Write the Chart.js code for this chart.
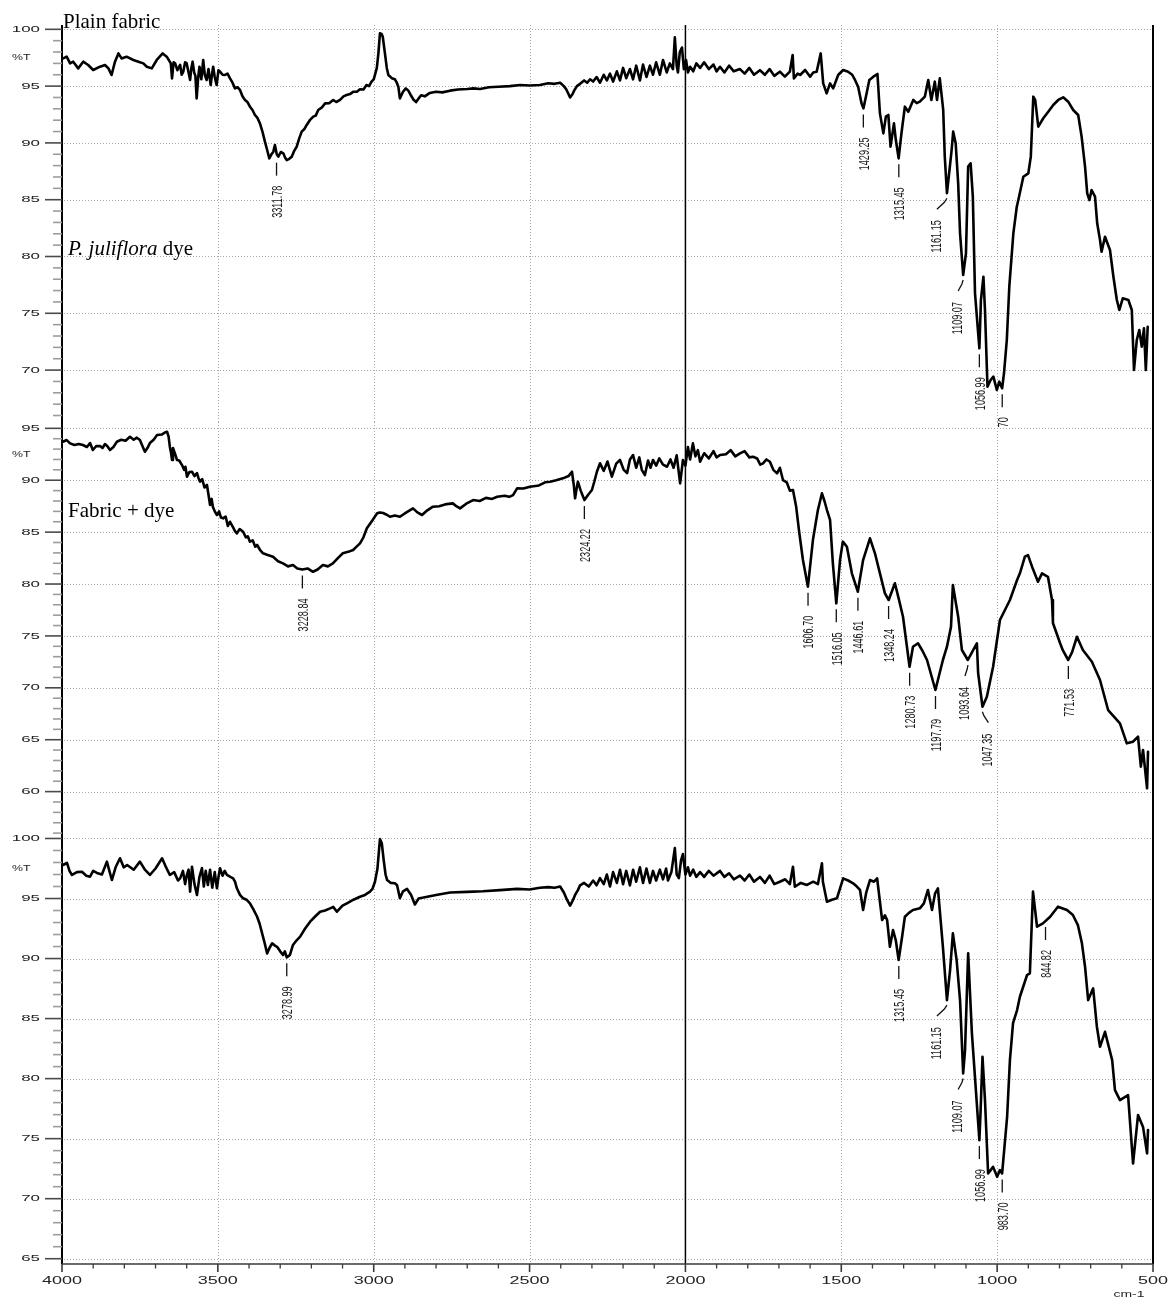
<!DOCTYPE html>
<html>
<head>
<meta charset="utf-8">
<title>FTIR spectra</title>
<script src="https://cdn.jsdelivr.net/npm/chart.js@4.4.1/dist/chart.umd.min.js"></script>
<style>
  html, body { margin: 0; padding: 0; background: #fff; }
  #wrap { position: relative; width: 1168px; height: 1299px; overflow: hidden; background: #fff; }
  #wrap canvas { position: absolute; left: 0; }
</style>
</head>
<body>
<div id="wrap">
  <canvas id="p1" width="1168" height="432" style="top:0px"></canvas>
  <canvas id="p2" width="1168" height="413" style="top:422px"></canvas>
  <canvas id="p3" width="1168" height="464" style="top:835px"></canvas>
</div>
<script>
// Each spectrum: [wavenumber (cm-1), transmittance (%T)]

// Plain fabric
const spectrum1 = [[3996,97.44],[3985,97.59],[3974,97.00],[3964,97.15],[3948,96.56],[3932,97.15],[3916,96.86],[3900,96.42],[3878,96.71],[3862,96.86],[3851,96.56],[3841,95.98],[3830,97.15],[3819,97.88],[3809,97.44],[3793,97.59],[3771,97.30],[3755,97.15],[3739,97.00],[3728,96.71],[3712,96.56],[3696,97.30],[3677,97.88],[3664,97.59],[3651,97.00],[3647,95.68],[3642,97.1],[3637,97.00],[3630,96.4],[3621,96.86],[3616,96.0],[3611,96.27],[3605,97.1],[3600,97.00],[3594,96.2],[3589,95.54],[3585,96.6],[3581,97.15],[3576,96.2],[3572,95.9],[3568,93.92],[3563,95.8],[3559,96.71],[3553,95.6],[3547,97.30],[3542,96.0],[3536,95.54],[3530,96.5],[3523,95.10],[3519,96.0],[3515,96.71],[3510,95.8],[3504,95.10],[3498,96.4],[3493,96.27],[3485,96.0],[3477,95.98],[3469,96.1],[3461,95.68],[3453,95.3],[3445,94.80],[3437,94.9],[3429,94.66],[3421,94.1],[3413,93.78],[3405,93.6],[3397,93.19],[3389,92.9],[3381,92.46],[3373,92.2],[3365,91.72],[3357,91.0],[3349,90.11],[3342,89.4],[3335,88.64],[3328,89.0],[3322,89.23],[3317,89.82],[3311,89.0],[3306,88.79],[3298,89.2],[3290,89.08],[3284,88.7],[3279,88.49],[3271,88.6],[3263,88.79],[3255,89.3],[3247,89.67],[3239,90.4],[3231,90.99],[3223,91.2],[3215,91.58],[3205,92.0],[3194,92.31],[3186,92.4],[3178,92.90],[3167,93.1],[3156,93.48],[3143,93.5],[3130,93.78],[3120,93.6],[3108,93.78],[3097,94.1],[3087,94.22],[3076,94.3],[3065,94.51],[3054,94.5],[3044,94.72],[3033,94.7],[3023,95.10],[3015,95.0],[3007,95.39],[3000,95.6],[2996,95.98],[2990,96.6],[2985,97.88],[2980,99.65],[2975,99.6],[2971,99.35],[2964,97.88],[2958,96.6],[2953,95.98],[2942,95.7],[2932,95.60],[2926,95.3],[2921,94.95],[2916,93.92],[2906,94.50],[2897,94.8],[2889,94.6],[2881,94.2],[2872,93.8],[2864,93.60],[2856,93.9],[2848,94.2],[2836,94.1],[2820,94.40],[2800,94.5],[2780,94.45],[2755,94.60],[2730,94.7],[2700,94.75],[2680,94.8],[2659,94.75],[2630,94.9],[2600,94.95],[2563,95.00],[2530,95.1],[2500,95.05],[2467,95.10],[2440,95.25],[2420,95.2],[2402,95.30],[2390,95.0],[2382,94.70],[2370,94.00],[2362,94.3],[2357,94.60],[2348,95.0],[2338,95.20],[2325,95.5],[2315,95.3],[2306,95.60],[2296,95.4],[2285,95.8],[2274,95.30],[2262,96.0],[2252,95.5],[2242,96.10],[2232,95.4],[2220,96.3],[2210,95.50],[2200,96.6],[2190,95.7],[2178,96.50],[2168,95.6],[2158,96.8],[2146,95.50],[2136,96.9],[2125,95.8],[2114,96.80],[2104,96.0],[2094,97.1],[2082,96.00],[2072,97.3],[2060,96.2],[2050,97.00],[2040,96.5],[2034,99.30],[2028,96.8],[2024,96.20],[2018,98.0],[2011,98.40],[2005,96.5],[1998,97.30],[1992,96.2],[1985,96.70],[1975,96.3],[1965,97.0],[1953,96.60],[1940,97.1],[1925,96.5],[1910,96.9],[1900,96.3],[1889,96.70],[1875,96.2],[1860,96.8],[1845,96.3],[1825,96.50],[1810,96.1],[1795,96.6],[1780,96.0],[1761,96.40],[1745,96.0],[1730,96.5],[1715,95.9],[1697,96.27],[1681,95.83],[1665,96.27],[1656,97.74],[1652,95.68],[1640,96.1],[1632,95.98],[1616,96.42],[1600,95.83],[1590,96.2],[1579,96.27],[1566,97.88],[1558,95.24],[1547,94.36],[1536,95.24],[1526,94.80],[1510,95.98],[1494,96.42],[1478,96.27],[1465,96.0],[1456,95.54],[1446,94.95],[1435,93.48],[1429,93.04],[1421,94.07],[1410,95.54],[1397,95.83],[1384,96.07],[1376,92.60],[1365,90.84],[1357,92.31],[1349,92.46],[1342,89.67],[1331,91.72],[1325,90.25],[1316,88.64],[1307,90.84],[1296,93.19],[1285,92.75],[1269,93.78],[1258,93.5],[1248,93.63],[1232,94.07],[1221,95.54],[1211,93.78],[1200,95.39],[1193,93.78],[1184,95.68],[1173,92.90],[1168,88.79],[1161,85.57],[1154,87.33],[1146,89.38],[1141,90.99],[1133,89.96],[1125,86.44],[1119,82.04],[1109,78.37],[1100,80.28],[1093,87.91],[1085,88.20],[1078,85.27],[1071,76.76],[1057,71.92],[1052,76.17],[1044,78.22],[1039,75.29],[1031,68.54],[1021,69.13],[1012,69.42],[1001,68.25],[993,68.98],[984,68.40],[978,69.72],[969,72.65],[961,77.34],[948,82.04],[937,84.38],[932,84.97],[916,87.02],[900,87.32],[892,88.79],[884,94.07],[878,93.78],[868,91.43],[852,92.17],[836,92.75],[820,93.34],[804,93.78],[788,94.01],[772,93.63],[756,92.90],[740,92.46],[729,90.55],[718,87.91],[711,85.56],[704,84.97],[697,85.85],[686,85.27],[679,82.92],[670,81.45],[665,80.42],[654,81.74],[638,80.57],[627,78.22],[616,76.17],[608,75.29],[597,76.32],[579,76.17],[568,75.29],[561,70.01],[552,72.65],[544,73.53],[536,72.06],[529,73.68],[523,70.01],[517,73.82]];

// Fabric + dye
const spectrum2 = [[3997,93.71],[3985,93.87],[3974,93.55],[3960,93.4],[3946,93.5],[3933,93.39],[3920,93.2],[3910,93.58],[3901,92.91],[3890,93.3],[3878,93.29],[3870,93.1],[3862,93.49],[3855,93.3],[3846,92.91],[3835,93.2],[3824,93.71],[3810,93.9],[3796,93.8],[3782,94.19],[3770,93.9],[3760,94.1],[3750,93.87],[3742,93.3],[3734,92.75],[3726,93.1],[3718,93.58],[3706,93.9],[3695,94.35],[3680,94.4],[3670,94.6],[3663,94.67],[3658,94.2],[3654,93.23],[3650,92.6],[3647,91.95],[3644,93.10],[3638,92.6],[3631,91.95],[3624,91.9],[3615,91.46],[3608,91.0],[3604,91.3],[3599,90.34],[3591,90.8],[3583,90.82],[3575,90.4],[3567,90.69],[3562,90.2],[3557,89.86],[3550,90.1],[3543,89.3],[3535,89.54],[3530,88.6],[3525,87.61],[3520,88.2],[3516,87.45],[3510,87.0],[3503,86.65],[3496,87.0],[3490,86.4],[3483,86.33],[3475,86.5],[3468,85.6],[3461,86.00],[3452,85.5],[3445,85.1],[3439,84.88],[3430,85.3],[3419,85.04],[3410,84.5],[3404,84.6],[3397,84.08],[3388,84.2],[3380,83.6],[3374,83.76],[3365,83.3],[3355,82.96],[3340,82.8],[3323,82.63],[3307,82.2],[3291,81.99],[3275,81.7],[3259,81.83],[3245,81.5],[3229,81.40],[3212,81.5],[3195,81.18],[3180,81.4],[3163,81.83],[3147,81.7],[3131,81.99],[3115,82.5],[3099,82.96],[3082,83.1],[3066,83.28],[3055,83.6],[3044,83.92],[3033,84.5],[3022,85.37],[3005,86.1],[2989,86.81],[2980,86.9],[2970,86.84],[2960,86.7],[2948,86.48],[2932,86.6],[2916,86.48],[2895,86.9],[2874,87.29],[2860,86.9],[2845,86.65],[2828,87.1],[2810,87.45],[2790,87.5],[2766,87.7],[2746,87.77],[2735,87.5],[2723,87.29],[2700,87.8],[2681,88.09],[2660,88.0],[2640,88.3],[2620,88.2],[2604,88.41],[2580,88.5],[2565,88.4],[2553,88.57],[2540,89.22],[2520,89.2],[2499,89.37],[2470,89.5],[2450,89.8],[2434,89.86],[2415,90.0],[2393,90.18],[2375,90.4],[2364,90.82],[2358,89.5],[2354,88.26],[2349,89.2],[2345,89.86],[2336,89.0],[2324,88.09],[2312,88.6],[2300,89.06],[2292,89.9],[2284,90.82],[2274,91.63],[2262,90.9],[2250,91.8],[2236,90.34],[2222,91.6],[2210,91.95],[2198,91.0],[2187,90.69],[2178,92.0],[2168,92.43],[2158,91.2],[2148,92.2],[2140,91.0],[2130,90.50],[2120,91.9],[2112,91.2],[2104,91.95],[2094,91.4],[2084,92.1],[2072,91.5],[2059,91.30],[2048,92.0],[2038,91.2],[2028,92.4],[2017,89.70],[2008,91.95],[2000,91.4],[1992,93.2],[1985,92.0],[1976,93.55],[1968,92.3],[1960,92.9],[1953,91.78],[1940,92.6],[1925,92.1],[1910,92.8],[1900,92.2],[1889,92.43],[1870,92.5],[1855,92.9],[1840,92.3],[1825,92.59],[1810,92.8],[1795,92.2],[1783,92.26],[1770,92.1],[1760,91.5],[1751,91.63],[1740,92.0],[1729,91.78],[1718,91.0],[1706,90.66],[1697,91.2],[1687,90.02],[1675,89.8],[1665,89.0],[1655,89.06],[1645,87.5],[1635,85.0],[1623,82.31],[1607,79.74],[1591,84.24],[1575,87.13],[1562,88.74],[1554,88.0],[1546,87.13],[1536,86.17],[1527,81.99],[1516,78.14],[1504,82.31],[1495,84.08],[1482,83.59],[1466,81.03],[1447,79.26],[1430,82.31],[1408,84.40],[1392,82.96],[1376,81.03],[1360,79.10],[1348,78.46],[1328,80.07],[1315,78.5],[1302,76.85],[1281,72.03],[1270,73.96],[1254,74.29],[1240,73.6],[1225,72.68],[1198,69.79],[1174,72.68],[1161,73.96],[1148,75.89],[1142,79.90],[1125,76.85],[1113,73.64],[1094,72.68],[1077,73.64],[1065,74.29],[1061,71.43],[1047,68.18],[1033,69.14],[1013,72.03],[991,76.53],[959,78.46],[936,80.39],[927,81.03],[911,82.63],[901,82.79],[888,81.67],[869,80.22],[856,81.03],[837,80.70],[824,78.46],[821,76.24],[798,74.29],[789,73.60],[772,72.68],[760,73.40],[744,74.92],[725,73.64],[696,72.51],[670,70.75],[644,67.86],[606,66.58],[584,64.65],[564,64.81],[548,65.29],[539,62.40],[532,64.01],[519,60.32],[516,63.84]];

// bottom trace
const spectrum3 = [[3997,97.79],[3984,97.96],[3976,97.3],[3968,96.96],[3952,97.2],[3936,97.23],[3922,96.9],[3910,96.82],[3900,97.3],[3888,97.13],[3872,97.0],[3856,98.07],[3848,97.3],[3840,96.54],[3828,97.6],[3814,98.35],[3802,97.6],[3791,97.79],[3770,97.4],[3750,98.07],[3734,97.4],[3718,96.96],[3700,97.5],[3679,98.35],[3668,97.7],[3654,96.96],[3640,97.2],[3628,96.5],[3621,96.68],[3612,97.3],[3605,96.2],[3600,96.9],[3594,97.4],[3589,95.57],[3583,97.65],[3575,96.2],[3567,95.29],[3559,96.8],[3551,97.54],[3545,96.0],[3539,97.3],[3532,96.13],[3525,97.4],[3518,95.9],[3510,97.2],[3503,95.85],[3498,96.8],[3493,97.52],[3485,96.9],[3478,97.3],[3471,96.96],[3460,96.8],[3451,96.68],[3445,96.4],[3439,95.85],[3429,95.3],[3419,95.02],[3408,94.9],[3397,94.60],[3386,94.1],[3374,93.48],[3366,92.9],[3358,92.10],[3350,91.3],[3342,90.43],[3334,90.9],[3326,91.27],[3318,91.1],[3310,90.98],[3300,90.6],[3291,90.29],[3285,90.6],[3279,90.10],[3269,90.29],[3259,91.13],[3248,91.5],[3236,91.82],[3220,92.5],[3204,93.07],[3188,93.5],[3172,93.90],[3156,94.0],[3140,94.18],[3130,94.3],[3118,93.90],[3100,94.4],[3086,94.60],[3065,94.9],[3044,95.15],[3028,95.3],[3012,95.57],[3004,95.8],[2996,96.40],[2988,97.5],[2980,99.95],[2974,99.6],[2968,98.2],[2962,97.0],[2957,96.54],[2945,96.3],[2932,96.27],[2925,96.1],[2916,95.02],[2906,95.6],[2893,95.8],[2880,95.3],[2868,94.50],[2856,95.0],[2836,95.10],[2800,95.3],[2755,95.50],[2700,95.55],[2650,95.6],[2595,95.70],[2540,95.8],[2500,95.75],[2467,95.90],[2440,95.95],[2420,95.9],[2402,96.00],[2390,95.5],[2380,94.9],[2370,94.40],[2362,94.8],[2354,95.30],[2345,95.7],[2338,96.10],[2325,96.3],[2310,96.0],[2296,96.5],[2285,96.1],[2274,96.70],[2262,96.2],[2252,97.0],[2242,96.0],[2232,97.2],[2220,96.3],[2210,97.40],[2200,96.2],[2190,97.3],[2178,96.10],[2168,97.4],[2158,96.4],[2146,97.60],[2136,96.3],[2125,97.5],[2114,96.30],[2104,97.3],[2094,96.5],[2082,97.40],[2072,96.6],[2062,97.5],[2056,96.50],[2045,97.2],[2034,99.20],[2028,97.0],[2021,96.70],[2014,98.2],[2008,98.70],[2000,97.0],[1992,97.60],[1985,96.9],[1975,97.4],[1965,96.8],[1953,97.20],[1940,96.8],[1925,97.3],[1910,96.9],[1889,97.30],[1875,96.8],[1860,97.1],[1845,96.6],[1825,96.90],[1810,96.5],[1795,97.0],[1780,96.4],[1761,96.80],[1745,96.3],[1730,96.9],[1715,96.2],[1697,96.40],[1680,96.6],[1665,96.2],[1655,97.65],[1649,95.98],[1630,96.3],[1610,96.13],[1590,96.4],[1575,96.2],[1562,97.93],[1559,96.40],[1546,94.73],[1530,94.9],[1514,95.02],[1494,96.68],[1478,96.5],[1462,96.27],[1450,96.0],[1440,95.71],[1430,94.04],[1420,95.5],[1408,96.54],[1395,96.4],[1385,96.68],[1369,93.21],[1360,93.6],[1353,93.21],[1344,90.98],[1334,92.38],[1325,91.5],[1316,89.88],[1305,91.8],[1296,93.48],[1283,93.8],[1270,94.04],[1248,94.18],[1235,94.6],[1222,95.71],[1209,94.04],[1199,95.43],[1190,95.85],[1174,90.98],[1161,86.54],[1151,89.04],[1142,92.10],[1130,89.88],[1119,86.54],[1109,80.43],[1103,82.38],[1093,90.43],[1081,83.79],[1057,74.88],[1053,77.38],[1047,81.82],[1039,78.21],[1029,72.10],[1013,72.65],[1000,71.82],[991,72.38],[984,72.10],[968,76.82],[959,81.54],[949,84.63],[936,85.71],[927,86.82],[904,88.63],[895,88.77],[885,95.57],[872,92.65],[853,92.93],[830,93.48],[805,94.32],[776,94.04],[757,93.63],[741,92.79],[728,91.27],[718,89.32],[708,86.54],[692,87.52],[680,84.32],[670,82.65],[654,83.90],[631,81.54],[622,79.04],[606,78.21],[580,78.63],[564,72.93],[548,76.96],[532,75.98],[519,73.77],[516,75.71]];

// marked band positions
const peaks1 = [3311.78, 1429.25, 1315.45, 1161.15, 1109.07, 1056.99, 983.70];
const peakText1 = ['3311.78', '1429.25', '1315.45', '1161.15', '1109.07', '1056.99', '70'];
const peaks2 = [3228.84, 2324.22, 1606.70, 1516.05, 1446.61, 1348.24, 1280.73, 1197.79, 1093.64, 1047.35, 771.53];
const peakText2 = ['3228.84', '2324.22', '1606.70', '1516.05', '1446.61', '1348.24', '1280.73', '1197.79', '1093.64', '1047.35', '771.53'];
const peaks3 = [3278.99, 1315.45, 1161.15, 1109.07, 1056.99, 983.70, 844.82];
const peakText3 = ['3278.99', '1315.45', '1161.15', '1109.07', '1056.99', '983.70', '844.82'];

// axis ticks
const xTicks = [4000, 3500, 3000, 2500, 2000, 1500, 1000, 500];
const xUnit = 'cm-1';
const yUnit = '%T';

const SANS = '"Liberation Sans", Arial, Helvetica, sans-serif';
const SERIF = '"Liberation Serif", "Times New Roman", Times, serif';

function seg(ctx, x1, y1, x2, y2) {
  ctx.beginPath(); ctx.moveTo(x1, y1); ctx.lineTo(x2, y2); ctx.stroke();
}

// wide, flat axis lettering
function wideText(ctx, text, x, y, size, sx, align) {
  ctx.save();
  ctx.font = size + 'px ' + SANS;
  ctx.fillStyle = '#222';
  ctx.textBaseline = 'middle';
  ctx.textAlign = align;
  ctx.translate(x, y);
  ctx.scale(sx, 1);
  ctx.fillText(text, 0, 0);
  ctx.restore();
}

// narrow band label written upward, occupying the page from `top` downward
function bandText(ctx, text, cx, top) {
  const sx = 0.65;
  ctx.save();
  ctx.font = '14px ' + SANS;
  ctx.fillStyle = '#1a1a1a';
  const len = ctx.measureText(text).width * sx;
  ctx.translate(cx, top + len);
  ctx.rotate(-Math.PI / 2);
  ctx.scale(sx, 1);
  ctx.textAlign = 'left';
  ctx.textBaseline = 'middle';
  ctx.fillText(text, 0, 0);
  ctx.restore();
}

// %T of a trace at a band: lowest reading within a few cm-1, else interpolated
function valueAt(spec, w) {
  let best = Infinity;
  spec.forEach(p => { if (Math.abs(p[0] - w) <= 8) best = Math.min(best, p[1]); });
  if (best !== Infinity) return best;
  for (let i = 0; i < spec.length - 1; i++) {
    const a = spec[i], b = spec[i + 1];
    if (a[0] >= w && b[0] <= w) {
      const t = (a[0] - w) / (a[0] - b[0]);
      return a[1] + t * (b[1] - a[1]);
    }
  }
  return spec[spec.length - 1][1];
}

function framePlugin(cfg) {
  return {
    id: 'frame',
    beforeDatasetsDraw(chart) {
      const { ctx, chartArea: a } = chart;
      const xs = chart.scales.x, ys = chart.scales.y;
      ctx.save();
      ctx.strokeStyle = '#a9a9a9';
      ctx.lineWidth = 1;
      ctx.setLineDash([1, 2]);
      xTicks.forEach(v => {
        if (v === 4000 || v === 2000 || v === 500) return;
        const px = Math.round(xs.getPixelForValue(v)) + 0.5;
        seg(ctx, px, a.top, px, a.bottom);
      });
      for (let v = Math.ceil(cfg.min / 5) * 5; v <= cfg.max; v += 5) {
        const py = Math.round(ys.getPixelForValue(v)) + 0.5;
        seg(ctx, a.left + 2, py, a.right - 2, py);
      }
      ctx.restore();
    },
    afterDatasetsDraw(chart) {
      const { ctx, chartArea: a } = chart;
      const xs = chart.scales.x, ys = chart.scales.y;
      ctx.save();
      ctx.setLineDash([]);
      ctx.lineCap = 'butt';

      // 2000 cm-1 divider and frame edges
      ctx.strokeStyle = '#000';
      ctx.lineWidth = 1.5;
      const p2000 = xs.getPixelForValue(2000);
      seg(ctx, p2000, a.top, p2000, a.bottom);
      ctx.lineWidth = 2;
      seg(ctx, a.right, a.top, a.right, a.bottom);
      seg(ctx, a.left, a.top, a.left, a.bottom);

      // y ticks and labels
      const majors = [];
      for (let v = Math.ceil(cfg.min); v <= cfg.max; v++) {
        const py = ys.getPixelForValue(v);
        const major = v % 5 === 0;
        ctx.strokeStyle = major ? '#4a4a4a' : '#9c9c9c';
        ctx.lineWidth = 1.6;
        seg(ctx, a.left - (major ? 17 : 9), py, a.left, py);
        if (major) {
          majors.push(py);
          wideText(ctx, String(v), 40, py, 9.5, 1.78, 'right');
        }
      }
      majors.sort((p, q) => p - q);
      wideText(ctx, yUnit, 12, (majors[0] + majors[1]) / 2, 8.5, 1.45, 'left');

      // band marks
      cfg.peaks.forEach((w, i) => {
        const v = valueAt(cfg.spec, w);
        const y0 = ys.getPixelForValue(v);
        const xp = xs.getPixelForValue(w);
        const lead = cfg.leaders[w];
        ctx.strokeStyle = '#111';
        ctx.lineWidth = 1.3;
        if (lead === undefined) {
          seg(ctx, xp, y0 + 6, xp, y0 + 19);
          bandText(ctx, cfg.text[i], xp + 1.5, y0 + 29);
        } else {
          const tx = xp + lead;
          ctx.beginPath();
          ctx.moveTo(xp, y0 + 5);
          ctx.lineTo(xp + lead * 0.25, y0 + 9);
          ctx.lineTo(tx, y0 + 16);
          ctx.stroke();
          bandText(ctx, cfg.text[i], tx, y0 + 27);
        }
      });

      // panel captions, in page coordinates
      ctx.translate(0, -cfg.top);
      ctx.fillStyle = '#000';
      ctx.textBaseline = 'alphabetic';
      ctx.textAlign = 'left';
      cfg.captions.forEach(c => {
        let x = c.x;
        c.parts.forEach(p => {
          ctx.font = (p.italic ? 'italic ' : '') + '21px ' + SERIF;
          ctx.fillText(p.t, x, c.y);
          x += ctx.measureText(p.t).width;
        });
      });

      // wavenumber axis under the last panel
      if (cfg.bottomAxis) {
        const yb = a.bottom + cfg.top;
        ctx.strokeStyle = '#3a3a3a';
        ctx.lineWidth = 1.5;
        seg(ctx, a.left, yb, a.right, yb);
        for (let v = 4000; v >= 500; v -= 100) {
          const px = xs.getPixelForValue(v);
          const major = v % 500 === 0;
          ctx.lineWidth = major ? 1.6 : 1.3;
          seg(ctx, px, yb, px, yb + (major ? 8 : 4.5));
        }
        xTicks.forEach(v => {
          wideText(ctx, String(v), xs.getPixelForValue(v), 1281, 10, 1.8, 'center');
        });
        wideText(ctx, xUnit, 1129, 1295, 9, 1.55, 'center');
      }
      ctx.restore();
    }
  };
}

function makePanel(id, cfg) {
  const pts = cfg.spec.map(p => ({ x: p[0], y: p[1] }));
  return new Chart(document.getElementById(id), {
    type: 'line',
    data: {
      datasets: [{
        data: pts,
        borderColor: '#000',
        borderWidth: 2.6,
        pointRadius: 0,
        tension: 0,
        fill: false,
        borderJoinStyle: 'round',
        borderCapStyle: 'round'
      }]
    },
    options: {
      responsive: false,
      maintainAspectRatio: false,
      animation: false,
      devicePixelRatio: 1,
      events: [],
      layout: { padding: cfg.padding },
      plugins: { legend: { display: false }, tooltip: { enabled: false }, title: { display: false } },
      scales: {
        x: { type: 'linear', reverse: true, min: 500, max: 4000, display: false },
        y: { type: 'linear', min: cfg.min, max: cfg.max, display: false }
      }
    },
    plugins: [framePlugin(cfg)]
  });
}

makePanel('p1', {
  spec: spectrum1, peaks: peaks1, text: peakText1,
  leaders: { 1161.15: -10, 1109.07: -5 },
  min: 65.43, max: 100.38, top: 0,
  padding: { left: 62, right: 15, top: 25, bottom: 10 },
  captions: [
    { x: 63, y: 28, parts: [{ t: 'Plain fabric' }] },
    { x: 68, y: 255, parts: [{ t: 'P. juliflora', italic: true }, { t: ' dye' }] }
  ]
});

makePanel('p2', {
  spec: spectrum2, peaks: peaks2, text: peakText2,
  leaders: { 1093.64: -3, 1047.35: 6 },
  min: 55.82, max: 95.61, top: 422,
  padding: { left: 62, right: 15, top: 0, bottom: 0 },
  captions: [
    { x: 68, y: 517, parts: [{ t: 'Fabric + dye' }] }
  ]
});

makePanel('p3', {
  spec: spectrum3, peaks: peaks3, text: peakText3,
  leaders: { 1161.15: -10, 1109.07: -5 },
  min: 64.56, max: 100.29, top: 835,
  padding: { left: 62, right: 15, top: 0, bottom: 35 },
  captions: [],
  bottomAxis: true
});
</script>
</body>
</html>
